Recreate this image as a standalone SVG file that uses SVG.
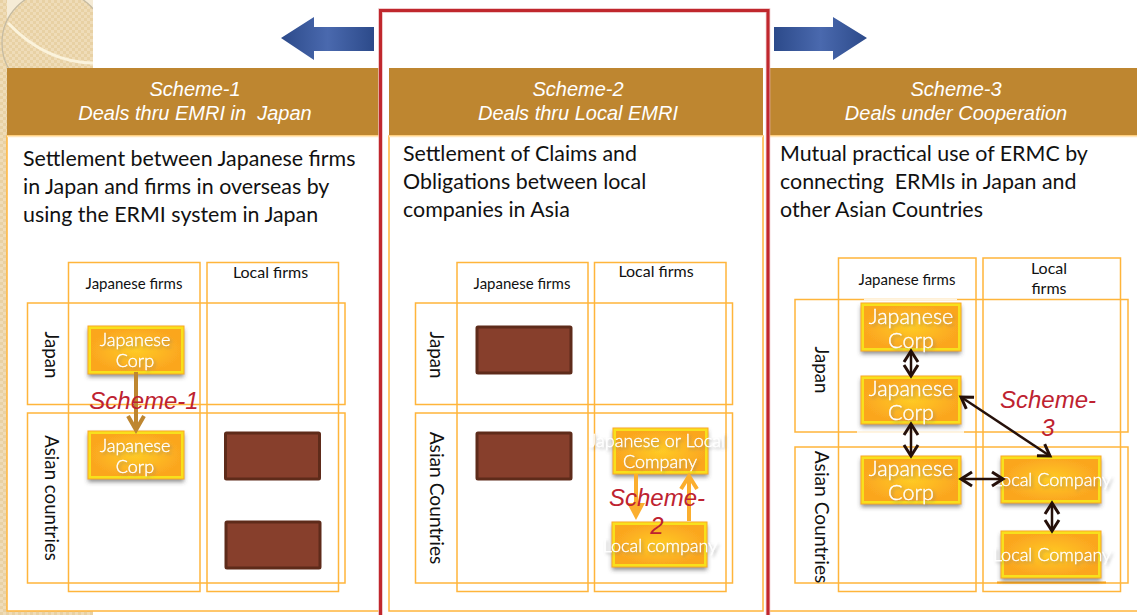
<svg xmlns="http://www.w3.org/2000/svg" width="1137" height="615" viewBox="0 0 1137 615">
<style>
.hd{font:italic 20px "Liberation Sans",Arial,sans-serif;fill:#fff;text-anchor:middle}
.bd{font:21.400px Lato,"Open Sans",sans-serif;fill:#111}
.lb{font:15px Lato,"Open Sans",sans-serif;fill:#111;text-anchor:middle}
.lc{font-size:16px}
.rt{font:18.700px Lato,"Open Sans",sans-serif;fill:#111;text-anchor:middle}
.rc{font-size:19.200px}
.nt{font:300 18px Lato,"Open Sans",sans-serif;fill:#fff;stroke:#fff;stroke-width:.35px;text-anchor:middle;filter:url(#glow)}
.nb{font-size:21.500px}
.sc{font:italic 24px "Liberation Sans",Arial,sans-serif;fill:#BE2230;text-anchor:middle}
.pn{fill:#fff;stroke:#FFB53B;stroke-width:1.5}
.gr{fill:none;stroke:#FFB53B;stroke-width:1.5}
.br{fill:#873F2C;stroke:#5E2B1A;stroke-width:3}
.or{fill:url(#og);stroke:#F8E01E;stroke-width:3;filter:url(#sh)}
.ou{fill:none;stroke:#FBA824;stroke-width:1}
.a1{fill:none;stroke:#BE8630;stroke-width:4}
.a2{fill:none;stroke:#FBAE2E;stroke-width:4}
.a3{fill:none;stroke:#25100A;stroke-width:2.500;marker-start:url(#ds);marker-end:url(#de)}
</style>
<defs>
<pattern id="ck" width="6" height="6" patternUnits="userSpaceOnUse"><rect width="6" height="6" fill="#EFDCB8"/><rect width="3" height="3" fill="#E8D1A4"/><rect x="3" y="3" width="3" height="3" fill="#E8D1A4"/></pattern>
<radialGradient id="og"><stop offset="0" stop-color="#FFCB25"/><stop offset="1" stop-color="#FBA61F"/></radialGradient>
<linearGradient id="bl"><stop offset="0" stop-color="#2C4A8A"/><stop offset=".5" stop-color="#4A69AE"/><stop offset="1" stop-color="#2C4A8A"/></linearGradient>
<filter id="sh" x="-10%" y="-10%" width="120%" height="135%"><feDropShadow dx="0" dy="3" stdDeviation="2" flood-color="#444" flood-opacity=".6"/></filter>
<filter id="glow" x="-10%" y="-25%" width="125%" height="160%"><feDropShadow dx="2" dy="2" stdDeviation="1.500" flood-color="#777" flood-opacity=".45"/></filter>
<marker id="de" markerUnits="userSpaceOnUse" markerWidth="18" markerHeight="18" refX="14" refY="9" orient="auto"><path d="M3 2L14 9L3 16" fill="none" stroke="#25100A" stroke-width="3"/></marker>
<marker id="ds" markerUnits="userSpaceOnUse" markerWidth="18" markerHeight="18" refX="4" refY="9" orient="auto"><path d="M15 2L4 9L15 16" fill="none" stroke="#25100A" stroke-width="3"/></marker>
<clipPath id="tl"><rect width="93" height="68"/></clipPath>
</defs>
<rect width="1137" height="615" fill="#fff"/>
<g id="background">
<rect width="93" height="68" fill="#F5EBD6"/>
<rect width="7" height="615" fill="url(#ck)"/>
<rect y="611" width="93" height="4" fill="url(#ck)"/>
<g clip-path="url(#tl)">
<circle cx="54" cy="43" r="52" fill="url(#ck)" stroke="#C4BAA2" stroke-width="1.200"/>
<path d="M54 95H93V68H0V80Z" fill="url(#ck)"/>
<path d="M93 0V10L98 0Z" fill="#F5EBD6"/>
<path d="M8 23Q45 62 93 63" fill="none" stroke="#FBF3DC" stroke-width="3"/>
</g>
</g>
<g id="arrow-left"><path d="M281 38L314 17V27H374V51H314V60Z" fill="url(#bl)"/></g>
<g id="arrow-right"><path d="M867 38L833 17V27H774V51H833V60Z" fill="url(#bl)"/></g>
<g id="panel-1">
<rect class="pn" x="7" y="136" width="373" height="475"/>
<rect x="7" y="68" width="373" height="67" fill="#BE8630"/>
<path d="M7 136.500H380" stroke="#FFE6BC" stroke-width="1.500"/>
<text class="hd" x="195" y="96">Scheme-1</text>
<text class="hd" x="195" y="120" xml:space="preserve">Deals thru EMRI in  Japan</text>
<text class="bd" x="23" y="166">Settlement between Japanese firms</text>
<text class="bd" x="23" y="194">in Japan and firms in overseas by</text>
<text class="bd" x="23" y="222">using the ERMI system in Japan</text>
<rect class="gr" x="68.500" y="262.500" width="131.500" height="329"/>
<rect class="gr" x="207" y="262.500" width="131.500" height="329"/>
<rect class="gr" x="27.500" y="303" width="317.500" height="101.500"/>
<rect class="gr" x="27.500" y="413" width="317.500" height="170"/>
<text class="lb" x="134" y="289">Japanese firms</text>
<text class="lb lc" x="270.500" y="278">Local firms</text>
<text class="rt" transform="translate(44.500 355) rotate(90)">Japan</text>
<text class="rt" transform="translate(44.500 498) rotate(90)">Asian countries</text>
</g>
<g id="panel-2">
<rect class="pn" x="389" y="136" width="374" height="475"/>
<rect x="389" y="68" width="374" height="67" fill="#BE8630"/>
<path d="M389 136.500H763" stroke="#FFE6BC" stroke-width="1.500"/>
<text class="hd" x="578" y="96">Scheme-2</text>
<text class="hd" x="578" y="120">Deals thru Local EMRI</text>
<text class="bd" x="403" y="161">Settlement of Claims and</text>
<text class="bd" x="403" y="189">Obligations between local</text>
<text class="bd" x="403" y="217">companies in Asia</text>
<rect class="gr" x="457" y="262.500" width="131" height="329"/>
<rect class="gr" x="594.500" y="262.500" width="131.500" height="329"/>
<rect class="gr" x="415.500" y="303" width="317" height="101.500"/>
<rect class="gr" x="415.500" y="413" width="317" height="170"/>
<text class="lb" x="522" y="289">Japanese firms</text>
<text class="lb lc" x="656" y="277">Local firms</text>
<text class="rt" transform="translate(429.500 355) rotate(90)">Japan</text>
<text class="rt rc" transform="translate(429.500 498) rotate(90)">Asian Countries</text>
</g>
<g id="panel-3">
<rect class="pn" x="768" y="136" width="372" height="475"/>
<rect x="768" y="68" width="369" height="67" fill="#BE8630"/>
<path d="M768 136.500H1137" stroke="#FFE6BC" stroke-width="1.500"/>
<text class="hd" x="956" y="96">Scheme-3</text>
<text class="hd" x="956" y="120">Deals under Cooperation</text>
<text class="bd" x="780" y="161">Mutual practical use of ERMC by</text>
<text class="bd" x="780" y="189" xml:space="preserve">connecting  ERMIs in Japan and</text>
<text class="bd" x="780" y="217">other Asian Countries</text>
<rect class="gr" x="838.500" y="258" width="137.500" height="333.500"/>
<rect class="gr" x="983" y="258" width="137.500" height="333.500"/>
<rect class="gr" x="795" y="299.500" width="333" height="132.500"/>
<rect class="gr" x="795" y="447" width="333" height="136"/>
<path d="M864 299.500H957M857 432H964" stroke="#FFF4E0" stroke-width="1.800"/>
<path d="M997 582.500H1106" stroke="#F9A51F" stroke-width="2"/>
<text class="lb" x="907" y="285">Japanese firms</text>
<text class="lb lc" x="1049" y="274">Local</text>
<text class="lb lc" x="1049" y="294">firms</text>
<text class="rt" transform="translate(814.500 370) rotate(90)">Japan</text>
<text class="rt rc" transform="translate(814.500 517) rotate(90)">Asian Countries</text>
</g>
<g id="frame"><rect x="380.500" y="10.500" width="387.500" height="620" fill="none" stroke="#EBB9BC" stroke-width="4.500"/><rect x="380.500" y="10.500" width="387.500" height="620" fill="none" stroke="#C0272D" stroke-width="3"/></g>
<g id="node-p1-jp1"><rect class="or" x="89.500" y="327.500" width="93" height="45"/><rect class="ou" x="88" y="326" width="96" height="48"/><text class="nt" x="135" y="346">Japanese</text><text class="nt" x="135" y="367">Corp</text></g>
<g id="node-p1-jp2"><rect class="or" x="89.500" y="432.500" width="93" height="45"/><rect class="ou" x="88" y="431" width="96" height="48"/><text class="nt" x="135" y="452">Japanese</text><text class="nt" x="135" y="473">Corp</text></g>
<g id="node-p1-br1"><rect class="br" x="225.500" y="433" width="94" height="46" rx="1"/></g>
<g id="node-p1-br2"><rect class="br" x="226" y="522" width="94" height="46" rx="1"/></g>
<g id="node-p2-br1"><rect class="br" x="477" y="327" width="94" height="46" rx="1"/></g>
<g id="node-p2-br2"><rect class="br" x="477" y="433" width="94" height="46" rx="1"/></g>
<g id="node-p2-a"><rect class="or" x="614.500" y="429.500" width="92" height="43"/><rect class="ou" x="613" y="428" width="95" height="46"/><text class="nt" x="657" y="447">Japanese or Local</text><text class="nt" x="660" y="468">Company</text></g>
<g id="node-p2-b"><rect class="or" x="613.500" y="523.500" width="92" height="42"/><rect class="ou" x="612" y="522" width="95" height="45"/><text class="nt" x="660" y="552">Local company</text></g>
<g id="node-p3-j1"><rect class="or" x="862.500" y="304.500" width="97" height="45"/><rect class="ou" x="861" y="303" width="100" height="48"/><text class="nt nb" x="911" y="324">Japanese</text><text class="nt nb" x="911" y="348">Corp</text></g>
<g id="node-p3-j2"><rect class="or" x="862.500" y="377.500" width="97" height="45"/><rect class="ou" x="861" y="376" width="100" height="48"/><text class="nt nb" x="911" y="396">Japanese</text><text class="nt nb" x="911" y="420">Corp</text></g>
<g id="node-p3-j3"><rect class="or" x="862.500" y="457.500" width="97" height="45"/><rect class="ou" x="861" y="456" width="100" height="48"/><text class="nt nb" x="911" y="476">Japanese</text><text class="nt nb" x="911" y="500">Corp</text></g>
<g id="node-p3-l1"><rect class="or" x="1002.500" y="457.500" width="97" height="44"/><rect class="ou" x="1001" y="456" width="100" height="47"/><text class="nt" x="1052" y="486">Local Company</text></g>
<g id="node-p3-l2"><rect class="or" x="1002.500" y="532.500" width="97" height="44"/><rect class="ou" x="1001" y="531" width="100" height="47"/><text class="nt" x="1052" y="561">Local Company</text></g>
<g id="connectors">
<path class="a1" d="M136 372V430M128 416L136 430L144 416"/>
<path class="a2" d="M636 474V510"/><path d="M627 503H645L636 520Z" fill="#FBAE2E"/>
<path class="a2" d="M689 521V477M681 489L689 476L697 489"/>
<path class="a3" d="M911 351V376"/>
<path class="a3" d="M911 424V456"/>
<path class="a3" d="M961 397L1050 456"/>
<path class="a3" d="M961 479H1003"/>
<path class="a3" d="M1052 503V531"/>
</g>
<g id="labels">
<text class="sc" x="144" y="409">Scheme-1</text>
<text class="sc" x="657" y="506">Scheme-</text>
<text class="sc" x="657" y="534">2</text>
<text class="sc" x="1048" y="408">Scheme-</text>
<text class="sc" x="1048" y="436">3</text>
</g>
</svg>
